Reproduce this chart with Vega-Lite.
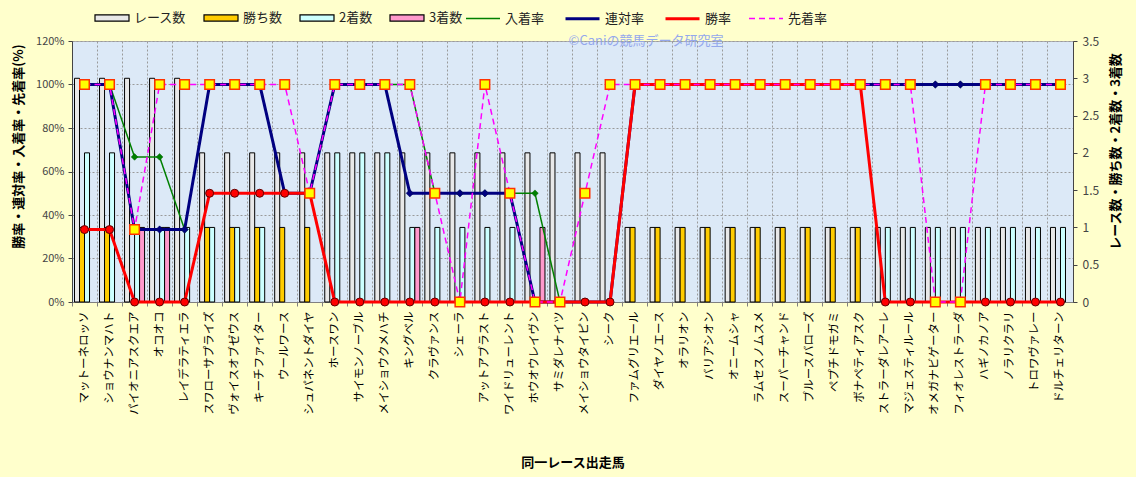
{
  "$schema": "https://vega.github.io/schema/vega-lite/v6.json",
  "width": 1001,
  "height": 261,
  "autosize": {"type": "none"},
  "padding": {"left": 72, "top": 41, "right": 63, "bottom": 175},
  "background": "#ffffcc",
  "config": {
    "font": "Noto Sans CJK JP",
    "view": {"fill": "#dce9f7", "stroke": "#b0b0b0"},
    "legend": {"labelFont": "Noto Sans CJK JP", "labelFontSize": 13, "labelColor": "#222222", "padding": 0}
  },
  "data": {"values": [
    {"h": "マットーネロッソ", "レース数": 3, "勝ち数": 1, "2着数": 2, "3着数": 0, "入着率": 1, "連対率": 1, "勝率": 0.333, "先着率": 1},
    {"h": "ショウナンマハト", "レース数": 3, "勝ち数": 1, "2着数": 2, "3着数": 0, "入着率": 1, "連対率": 1, "勝率": 0.333, "先着率": 1},
    {"h": "パイオニアスクエア", "レース数": 3, "勝ち数": 0, "2着数": 1, "3着数": 1, "入着率": 0.667, "連対率": 0.333, "勝率": 0, "先着率": 0.333},
    {"h": "オコオコ", "レース数": 3, "勝ち数": 0, "2着数": 1, "3着数": 1, "入着率": 0.667, "連対率": 0.333, "勝率": 0, "先着率": 1},
    {"h": "レイデラティエラ", "レース数": 3, "勝ち数": 0, "2着数": 1, "3着数": 0, "入着率": 0.333, "連対率": 0.333, "勝率": 0, "先着率": 1},
    {"h": "スワローサプライズ", "レース数": 2, "勝ち数": 1, "2着数": 1, "3着数": 0, "入着率": 1, "連対率": 1, "勝率": 0.5, "先着率": 1},
    {"h": "ヴォイスオブゼウス", "レース数": 2, "勝ち数": 1, "2着数": 1, "3着数": 0, "入着率": 1, "連対率": 1, "勝率": 0.5, "先着率": 1},
    {"h": "キーチファイター", "レース数": 2, "勝ち数": 1, "2着数": 1, "3着数": 0, "入着率": 1, "連対率": 1, "勝率": 0.5, "先着率": 1},
    {"h": "ウールワース", "レース数": 2, "勝ち数": 1, "2着数": 0, "3着数": 0, "入着率": 0.5, "連対率": 0.5, "勝率": 0.5, "先着率": 1},
    {"h": "シュパネントダイヤ", "レース数": 2, "勝ち数": 1, "2着数": 0, "3着数": 0, "入着率": 0.5, "連対率": 0.5, "勝率": 0.5, "先着率": 0.5},
    {"h": "ホースワン", "レース数": 2, "勝ち数": 0, "2着数": 2, "3着数": 0, "入着率": 1, "連対率": 1, "勝率": 0, "先着率": 1},
    {"h": "サイモンノーブル", "レース数": 2, "勝ち数": 0, "2着数": 2, "3着数": 0, "入着率": 1, "連対率": 1, "勝率": 0, "先着率": 1},
    {"h": "メイショウクメハチ", "レース数": 2, "勝ち数": 0, "2着数": 2, "3着数": 0, "入着率": 1, "連対率": 1, "勝率": 0, "先着率": 1},
    {"h": "キングベル", "レース数": 2, "勝ち数": 0, "2着数": 1, "3着数": 1, "入着率": 1, "連対率": 0.5, "勝率": 0, "先着率": 1},
    {"h": "クラヴァンス", "レース数": 2, "勝ち数": 0, "2着数": 1, "3着数": 0, "入着率": 0.5, "連対率": 0.5, "勝率": 0, "先着率": 0.5},
    {"h": "シェーラ", "レース数": 2, "勝ち数": 0, "2着数": 1, "3着数": 0, "入着率": 0.5, "連対率": 0.5, "勝率": 0, "先着率": 0},
    {"h": "アットアブラスト", "レース数": 2, "勝ち数": 0, "2着数": 1, "3着数": 0, "入着率": 0.5, "連対率": 0.5, "勝率": 0, "先着率": 1},
    {"h": "ワイドリューレント", "レース数": 2, "勝ち数": 0, "2着数": 1, "3着数": 0, "入着率": 0.5, "連対率": 0.5, "勝率": 0, "先着率": 0.5},
    {"h": "ホウオウレイヴン", "レース数": 2, "勝ち数": 0, "2着数": 0, "3着数": 1, "入着率": 0.5, "連対率": 0, "勝率": 0, "先着率": 0},
    {"h": "サミダレナイツ", "レース数": 2, "勝ち数": 0, "2着数": 0, "3着数": 0, "入着率": 0, "連対率": 0, "勝率": 0, "先着率": 0},
    {"h": "メイショウタイピン", "レース数": 2, "勝ち数": 0, "2着数": 0, "3着数": 0, "入着率": 0, "連対率": 0, "勝率": 0, "先着率": 0.5},
    {"h": "シーク", "レース数": 2, "勝ち数": 0, "2着数": 0, "3着数": 0, "入着率": 0, "連対率": 0, "勝率": 0, "先着率": 1},
    {"h": "ファムグリエール", "レース数": 1, "勝ち数": 1, "2着数": 0, "3着数": 0, "入着率": 1, "連対率": 1, "勝率": 1, "先着率": 1},
    {"h": "ダイヤノエース", "レース数": 1, "勝ち数": 1, "2着数": 0, "3着数": 0, "入着率": 1, "連対率": 1, "勝率": 1, "先着率": 1},
    {"h": "オラリオン", "レース数": 1, "勝ち数": 1, "2着数": 0, "3着数": 0, "入着率": 1, "連対率": 1, "勝率": 1, "先着率": 1},
    {"h": "バリアシオン", "レース数": 1, "勝ち数": 1, "2着数": 0, "3着数": 0, "入着率": 1, "連対率": 1, "勝率": 1, "先着率": 1},
    {"h": "オニームシャ", "レース数": 1, "勝ち数": 1, "2着数": 0, "3着数": 0, "入着率": 1, "連対率": 1, "勝率": 1, "先着率": 1},
    {"h": "ラムセスノムスメ", "レース数": 1, "勝ち数": 1, "2着数": 0, "3着数": 0, "入着率": 1, "連対率": 1, "勝率": 1, "先着率": 1},
    {"h": "スーパーチャンド", "レース数": 1, "勝ち数": 1, "2着数": 0, "3着数": 0, "入着率": 1, "連対率": 1, "勝率": 1, "先着率": 1},
    {"h": "ブルースバローズ", "レース数": 1, "勝ち数": 1, "2着数": 0, "3着数": 0, "入着率": 1, "連対率": 1, "勝率": 1, "先着率": 1},
    {"h": "ペプチドモガミ", "レース数": 1, "勝ち数": 1, "2着数": 0, "3着数": 0, "入着率": 1, "連対率": 1, "勝率": 1, "先着率": 1},
    {"h": "ボナペティアスク", "レース数": 1, "勝ち数": 1, "2着数": 0, "3着数": 0, "入着率": 1, "連対率": 1, "勝率": 1, "先着率": 1},
    {"h": "ストラーダレアーレ", "レース数": 1, "勝ち数": 0, "2着数": 1, "3着数": 0, "入着率": 1, "連対率": 1, "勝率": 0, "先着率": 1},
    {"h": "マジェスティルール", "レース数": 1, "勝ち数": 0, "2着数": 1, "3着数": 0, "入着率": 1, "連対率": 1, "勝率": 0, "先着率": 1},
    {"h": "オメガナビゲーター", "レース数": 1, "勝ち数": 0, "2着数": 1, "3着数": 0, "入着率": 1, "連対率": 1, "勝率": 0, "先着率": 0},
    {"h": "フィオレストラーダ", "レース数": 1, "勝ち数": 0, "2着数": 1, "3着数": 0, "入着率": 1, "連対率": 1, "勝率": 0, "先着率": 0},
    {"h": "ハギノカノア", "レース数": 1, "勝ち数": 0, "2着数": 1, "3着数": 0, "入着率": 1, "連対率": 1, "勝率": 0, "先着率": 1},
    {"h": "ノラリクラリ", "レース数": 1, "勝ち数": 0, "2着数": 1, "3着数": 0, "入着率": 1, "連対率": 1, "勝率": 0, "先着率": 1},
    {"h": "トロワヴァレー", "レース数": 1, "勝ち数": 0, "2着数": 1, "3着数": 0, "入着率": 1, "連対率": 1, "勝率": 0, "先着率": 1},
    {"h": "ドルチェリターン", "レース数": 1, "勝ち数": 0, "2着数": 1, "3着数": 0, "入着率": 1, "連対率": 1, "勝率": 0, "先着率": 1}
  ]},
  "encoding": {
    "x": {
      "field": "h", "type": "nominal", "sort": null,
      "scale": {"paddingInner": 0, "paddingOuter": 0},
      "axis": {
        "title": "同一レース出走馬", "titleFontSize": 13, "titleFontWeight": "bold", "titleColor": "#000000",
        "titleY": 160, "titleBaseline": "middle",
        "labelAngle": 270, "labelFontSize": 11.5, "labelColor": "#000000", "labelPadding": 5,
        "bandPosition": 0, "tickSize": 4, "tickColor": "#808080",
        "grid": true, "gridDash": [2, 2], "gridColor": "#9a9a9a",
        "domainColor": "#808080"
      }
    }
  },
  "layer": [
    {
      "transform": [
        {"fold": ["レース数", "勝ち数", "2着数", "3着数"], "as": ["bs", "cnt"]},
        {"filter": "datum.cnt > 0"}
      ],
      "mark": {"type": "bar", "stroke": "#000000", "strokeWidth": 1},
      "encoding": {
        "xOffset": {"field": "bs", "type": "nominal", "scale": {"domain": ["レース数", "勝ち数", "2着数", "3着数"], "paddingInner": 0, "paddingOuter": 0.5}},
        "y": {
          "field": "cnt", "type": "quantitative",
          "scale": {"domain": [0, 3.5]},
          "axis": {
            "orient": "right", "values": [0, 0.5, 1, 1.5, 2, 2.5, 3, 3.5], "format": "~g",
            "grid": false, "labelFontSize": 12, "labelColor": "#444444", "labelPadding": 5,
            "tickSize": 4, "tickColor": "#444444", "domainColor": "#444444",
            "title": "レース数・勝ち数・2着数・3着数", "titleAngle": 270, "titleBaseline": "middle",
            "titleX": 42, "titleY": 110, "titleFontSize": 13, "titleFontWeight": "bold", "titleColor": "#000000"
          }
        },
        "fill": {
          "field": "bs", "type": "nominal",
          "scale": {"domain": ["レース数", "勝ち数", "2着数", "3着数"], "range": ["#e8e8e8", "#ffcc00", "#ccffff", "#ff99cc"]},
          "legend": {
            "orient": "none", "legendX": 22, "legendY": -41, "direction": "horizontal", "title": null,
            "symbolType": "M-1,-0.18H1V0.18H-1Z", "symbolSize": 1156, "symbolStrokeColor": "#000000", "symbolStrokeWidth": 1.2,
            "symbolOpacity": 1, "columnPadding": 14, "labelOffset": 4
          }
        }
      }
    },
    {
      "transform": [{"fold": ["入着率", "連対率", "勝率", "先着率"], "as": ["rs", "rate"]}],
      "encoding": {
        "y": {
          "field": "rate", "type": "quantitative",
          "scale": {"domain": [0, 1.2]},
          "axis": {
            "orient": "left", "values": [0, 0.2, 0.4, 0.6, 0.8, 1, 1.2], "format": ".0%",
            "grid": true, "gridDash": [2, 2], "gridColor": "#9a9a9a",
            "labelFontSize": 11, "labelColor": "#444444", "labelPadding": 4,
            "tickSize": 4, "tickColor": "#444444", "domainColor": "#444444",
            "title": "勝率・連対率・入着率・先着率(%)", "titleAngle": 270, "titleBaseline": "middle",
            "titleX": -54, "titleY": 105, "titleFontSize": 13, "titleFontWeight": "bold", "titleColor": "#000000"
          }
        }
      },
      "layer": [
        {
          "transform": [{"filter": "datum.h === 'ファムグリエール' && datum.rs === '先着率'"}],
          "mark": {"type": "text", "text": "©Caniの競馬データ研究室", "color": "#94a8ec", "fontSize": 13, "dx": 11, "baseline": "middle", "align": "center"},
          "encoding": {"y": {"datum": 1.2}}
        },
        {
          "mark": {"type": "line"},
          "encoding": {
            "stroke": {
              "field": "rs", "type": "nominal",
              "scale": {"domain": ["入着率", "連対率", "勝率", "先着率"], "range": ["#008000", "#000080", "#ff0000", "#ff00ff"]},
              "legend": {
                "orient": "none", "legendX": 393, "legendY": -41, "direction": "horizontal", "title": null,
                "symbolType": "stroke", "symbolSize": 1156, "columnPadding": 14, "labelOffset": 4
              }
            },
            "strokeWidth": {
              "field": "rs", "type": "nominal",
              "scale": {"type": "ordinal", "domain": ["入着率", "連対率", "勝率", "先着率"], "range": [1.5, 3, 3, 1.5]},
              "legend": {
                "orient": "none", "legendX": 393, "legendY": -41, "direction": "horizontal", "title": null,
                "symbolType": "stroke", "symbolSize": 1156, "columnPadding": 14, "labelOffset": 4
              }
            },
            "strokeDash": {
              "field": "rs", "type": "nominal",
              "scale": {"domain": ["入着率", "連対率", "勝率", "先着率"], "range": [[1, 0], [1, 0], [1, 0], [6, 4]]},
              "legend": {
                "orient": "none", "legendX": 393, "legendY": -41, "direction": "horizontal", "title": null,
                "symbolType": "stroke", "symbolSize": 1156, "columnPadding": 14, "labelOffset": 4
              }
            }
          }
        },
        {
          "transform": [{"filter": "datum.rs === '入着率'"}],
          "mark": {"type": "point", "shape": "diamond", "filled": true, "fill": "#008000", "stroke": "#006000", "strokeWidth": 0.5, "size": 45, "opacity": 1}
        },
        {
          "transform": [{"filter": "datum.rs === '連対率'"}],
          "mark": {"type": "point", "shape": "diamond", "filled": true, "fill": "#000080", "stroke": "#000050", "strokeWidth": 0.5, "size": 55, "opacity": 1}
        },
        {
          "transform": [{"filter": "datum.rs === '勝率'"}],
          "mark": {"type": "point", "shape": "circle", "filled": true, "fill": "#ff0000", "stroke": "#600000", "strokeWidth": 1, "size": 64, "opacity": 1}
        },
        {
          "transform": [{"filter": "datum.rs === '先着率'"}],
          "mark": {"type": "point", "shape": "square", "filled": true, "fill": "#ffff00", "stroke": "#ff3300", "strokeWidth": 1.5, "size": 90, "opacity": 1}
        }
      ]
    }
  ],
  "resolve": {"scale": {"y": "independent"}}
}
